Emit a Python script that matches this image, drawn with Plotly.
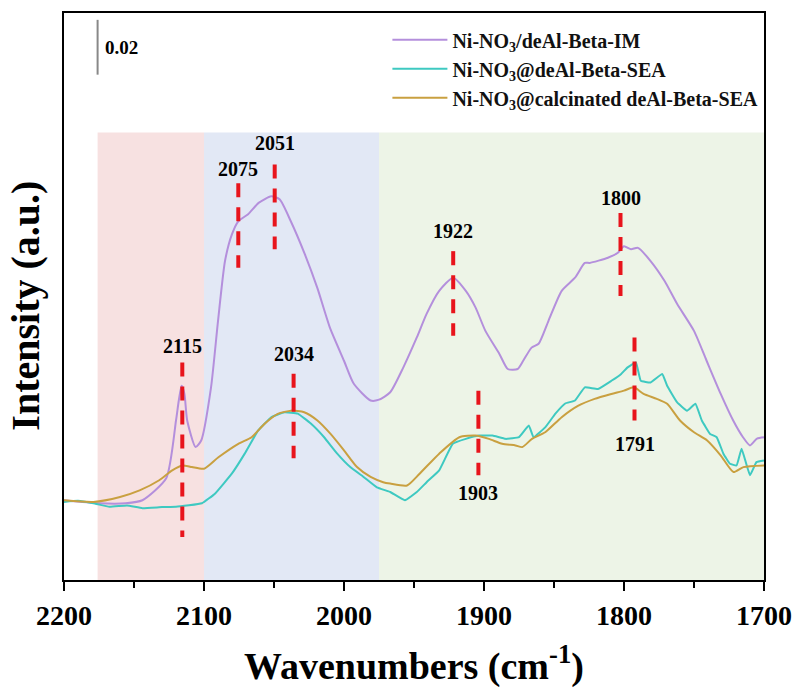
import plotly.graph_objects as go

# ---------------- data ----------------
wn_im = [2200, 2175, 2156, 2144, 2127, 2120, 2118, 2116, 2114, 2112, 2106, 2102, 2095, 2090, 2085,
         2080, 2075.5, 2068.5, 2061, 2052, 2046, 2038, 2028, 2019, 2010, 2000, 1993, 1981, 1975,
         1967, 1957.6, 1948, 1941, 1932, 1922, 1913, 1906, 1899, 1889, 1883, 1876, 1872, 1866,
         1861, 1854, 1844.5, 1835, 1828, 1824.5, 1811.5, 1804.4, 1800, 1795, 1790, 1781, 1771,
         1762, 1750, 1741, 1731, 1722, 1715, 1710, 1705, 1700]
abs_im = [0.0291, 0.0280, 0.0280, 0.0291, 0.0371, 0.0582, 0.0655, 0.0709, 0.0680, 0.0582, 0.0485,
          0.0509, 0.0702, 0.0945, 0.1164, 0.1262, 0.1309, 0.1335, 0.1376, 0.1400, 0.1389, 0.1309,
          0.1189, 0.1065, 0.0920, 0.0800, 0.0716, 0.0655, 0.0658, 0.0685, 0.0776, 0.0885, 0.0971,
          0.1055, 0.1103, 0.1055, 0.0994, 0.0909, 0.0825, 0.0770, 0.0770, 0.0800, 0.0848, 0.0862,
          0.0945, 0.1055, 0.1103, 0.1157, 0.1157, 0.1176, 0.1194, 0.1218, 0.1207, 0.1212, 0.1164,
          0.1091, 0.1007, 0.0909, 0.0800, 0.0680, 0.0582, 0.0521, 0.0491, 0.0516, 0.0521]

wn_sea = [2200, 2190, 2179, 2167.5, 2155, 2144, 2130, 2120, 2101.5, 2092, 2080, 2070.8, 2061.4, 2052,
          2042.5, 2033, 2023.7, 2014.2, 2005, 1995.5, 1986, 1976.5, 1967, 1956.5, 1948, 1941,
          1932, 1922.3, 1913, 1903.5, 1894, 1884.6, 1875, 1868, 1864.6, 1856.3, 1849, 1842, 1835,
          1828, 1818.6, 1809, 1802, 1797.4, 1791.5, 1788, 1781, 1772.7, 1769.2, 1762, 1755, 1749,
          1744.4, 1738.5, 1733.8, 1729, 1724.3, 1719.6, 1716, 1710, 1705.4, 1700]
abs_sea = [0.0285, 0.0289, 0.0280, 0.0267, 0.0272, 0.0262, 0.0266, 0.0267, 0.0280, 0.0316, 0.0389,
           0.0462, 0.0545, 0.0594, 0.0612, 0.0607, 0.0571, 0.0521, 0.0462, 0.0412, 0.0376, 0.0338,
           0.0321, 0.0291, 0.0321, 0.0357, 0.0400, 0.0497, 0.0515, 0.0527, 0.0527, 0.0515, 0.0521,
           0.0564, 0.0521, 0.0557, 0.0607, 0.0644, 0.0655, 0.0703, 0.0697, 0.0727, 0.0752, 0.0776,
           0.0794, 0.0727, 0.0721, 0.0752, 0.0709, 0.0648, 0.0618, 0.0643, 0.0582, 0.0533, 0.0521,
           0.0461, 0.0424, 0.0418, 0.0479, 0.0382, 0.0430, 0.0436]

wn_cal = [2200, 2179, 2160, 2146, 2132, 2122.7, 2115.6, 2108.6, 2100, 2089.7, 2075.5, 2066, 2056.7,
          2047.3, 2037.8, 2028.4, 2019, 2009.6, 2000, 1990.7, 1981, 1972, 1967, 1955, 1946, 1932,
          1917.6, 1906, 1896.5, 1887, 1877.5, 1872.7, 1865.7, 1856.3, 1844.5, 1832.6, 1821, 1809,
          1800, 1793, 1786, 1776.6, 1769.2, 1760, 1750, 1740.6, 1731, 1721.8, 1714.7, 1700]
abs_cal = [0.0291, 0.0285, 0.0303, 0.0327, 0.0364, 0.0400, 0.0418, 0.0412, 0.0406, 0.0448, 0.0497,
           0.0521, 0.0570, 0.0606, 0.0618, 0.0612, 0.0582, 0.0533, 0.0473, 0.0412, 0.0376, 0.0357,
           0.0352, 0.0345, 0.0388, 0.0461, 0.0521, 0.0527, 0.0515, 0.0497, 0.0491, 0.0485, 0.0515,
           0.0539, 0.0594, 0.0636, 0.0661, 0.0679, 0.0691, 0.0703, 0.0679, 0.0661, 0.0643, 0.0582,
           0.0539, 0.0509, 0.0455, 0.0394, 0.0412, 0.0418]

series_names = ["Ni-NO<sub>3</sub>/deAl-Beta-IM",
                "Ni-NO<sub>3</sub>@deAl-Beta-SEA",
                "Ni-NO<sub>3</sub>@calcinated deAl-Beta-SEA"]

# peak markers
peak_labels = ["2115", "2075", "2051", "2034", "1922", "1903", "1800", "1791"]
peak_x = [2115.5, 2075.5, 2049.5, 2036, 1922, 1904, 1802.5, 1792.5]
peak_top = [0.0794, 0.1448, 0.1516, 0.0753, 0.1200, 0.0691, 0.1339, 0.0885]
peak_bottom = [0.0157, 0.1139, 0.1207, 0.0444, 0.0891, 0.0382, 0.1036, 0.0582]
peak_label_y = [0.0855, 0.1498, 0.1594, 0.0825, 0.1273, 0.0316, 0.1394, 0.0497]

# shaded regions (wavenumber bounds)
region_lo = [2100, 1975, 1700]
region_hi = [2176, 2100, 1975]
region_top = 0.1633

# scale bar
bar_x = 2176
bar_y0, bar_y1 = 0.1844, 0.2044
bar_text = "0.02"

# ---------------- styles ----------------
colors = ["#b48fdc", "#3ec9c1", "#c9a040"]
smooth = [0.6, 0.3, 0.6]
region_colors = ["#f7e1e1", "#e2e8f5", "#edf4e7"]
FONT = "Liberation Serif"

fig = go.Figure()

for lo, hi, c in zip(region_lo, region_hi, region_colors):
    fig.add_shape(type="rect", xref="x", yref="y", x0=hi, x1=lo, y0=0, y1=region_top,
                  fillcolor=c, line_width=0, layer="below")

for wn, ab, name, c, s in zip([wn_im, wn_sea, wn_cal], [abs_im, abs_sea, abs_cal],
                              series_names, colors, smooth):
    fig.add_trace(go.Scatter(x=wn, y=ab, mode="lines", name=name,
                             line=dict(color=c, width=2, shape="spline", smoothing=s)))

for px_, t, b in zip(peak_x, peak_top, peak_bottom):
    fig.add_trace(go.Scatter(x=[px_, px_], y=[t, b], mode="lines", showlegend=False,
                             line=dict(color="#e8141c", width=4, dash="14px,10px"),
                             hoverinfo="skip"))

for lab, px_, ly in zip(peak_labels, peak_x, peak_label_y):
    fig.add_annotation(x=px_, y=ly, text=lab, showarrow=False, xref="x", yref="y",
                       font=dict(family=FONT, size=20, color="black", weight="bold"))

# scale bar
fig.add_trace(go.Scatter(x=[bar_x, bar_x], y=[bar_y0, bar_y1], mode="lines", showlegend=False,
                         line=dict(color="#888888", width=2), hoverinfo="skip"))
fig.add_annotation(x=bar_x, y=(bar_y0 + bar_y1) / 2, text=bar_text, showarrow=False,
                   xref="x", yref="y", xanchor="left", xshift=5,
                   font=dict(family=FONT, size=19, color="black", weight="bold"))

fig.update_layout(
    width=803, height=692,
    margin=dict(l=64, r=32, t=11, b=112),
    paper_bgcolor="white", plot_bgcolor="white",
    showlegend=True,
    legend=dict(x=0.462, y=0.987, xanchor="left", yanchor="top",
                bgcolor="rgba(0,0,0,0)", borderwidth=0, itemwidth=55,
                font=dict(family=FONT, size=20, color="#111", weight="bold"),
                tracegroupgap=0),
    xaxis=dict(range=[2200, 1700], dtick=100, tick0=1700, showgrid=False, zeroline=False,
               showline=True, linecolor="black", linewidth=2, mirror=True,
               ticks="outside", ticklen=9, tickwidth=2, tickcolor="black",
               minor=dict(dtick=50, ticks="outside", ticklen=6, tickwidth=2, tickcolor="black"),
               tickfont=dict(family=FONT, size=28, color="black", weight="bold")),
    yaxis=dict(range=[0, 0.2069], showgrid=False, zeroline=False, showticklabels=False,
               showline=True, linecolor="black", linewidth=2, mirror=True, ticks=""),
)

fig.add_annotation(text="Wavenumbers (cm<sup>-1</sup>)", xref="paper", yref="paper",
                   x=0.5, y=-0.148, xanchor="center", yanchor="middle", showarrow=False,
                   font=dict(family=FONT, size=38, color="black", weight="bold"))
fig.add_annotation(text="Intensity (a.u.)", xref="paper", yref="paper",
                   x=-0.055, y=0.483, xanchor="center", yanchor="middle", textangle=-90,
                   showarrow=False,
                   font=dict(family=FONT, size=40, color="black", weight="bold"))

fig.write_html("out.html")
